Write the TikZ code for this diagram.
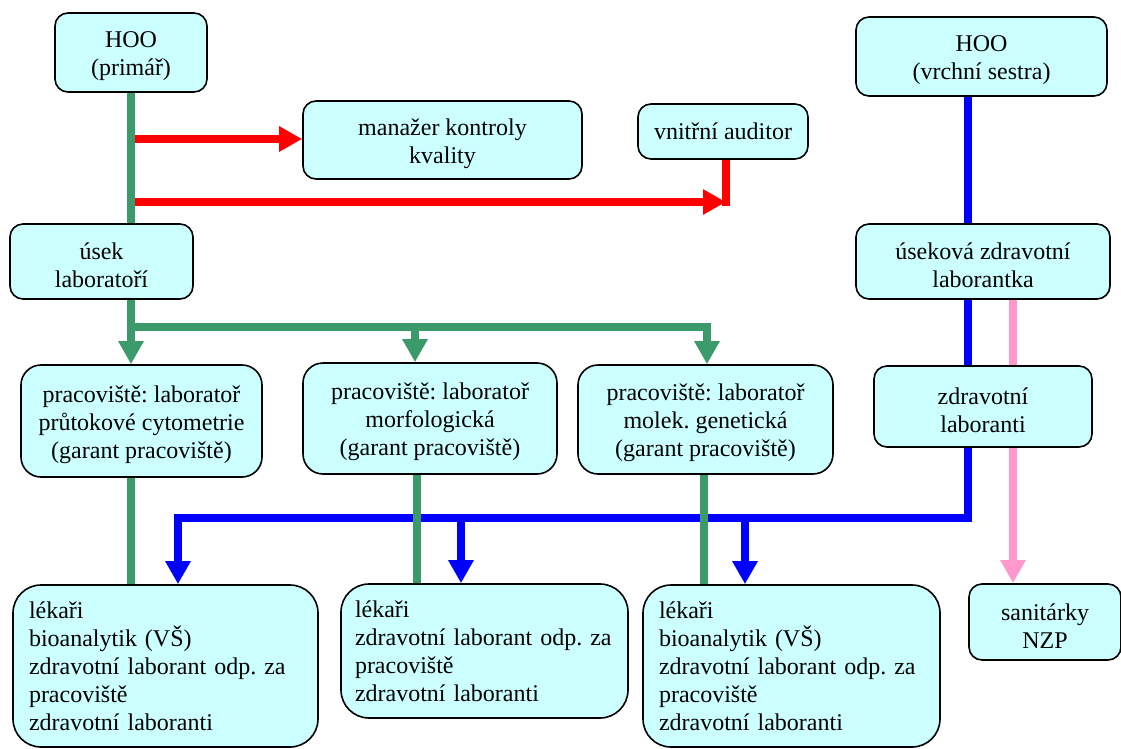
\documentclass[tikz,border=0pt]{standalone}
\usepackage{fontspec}
\setmainfont{Liberation Serif}
\usetikzlibrary{arrows.meta,backgrounds}
\frenchspacing
\newcommand{\topstrut}{\rule{0pt}{24pt}}
\definecolor{boxfill}{HTML}{CCFFFF}
\definecolor{gcol}{HTML}{3A9A6A}
\definecolor{rcol}{HTML}{FF0000}
\definecolor{bcol}{HTML}{0000FF}
\definecolor{pcol}{HTML}{FF99CC}
\tikzset{
  basebox/.style={draw=black, line width=1.6pt, fill=boxfill, rounded corners=13pt,
    font=\fontsize{24}{28}\selectfont, inner sep=0pt},
  box/.style={basebox, align=center},
  bigbox/.style={basebox, rounded corners=28pt, align=left, inner xsep=16pt, inner ysep=0pt},
  pracbox/.style={box, rounded corners=20pt},
  gconn/.style={draw=gcol, line width=8pt},
  rconn/.style={draw=rcol, line width=8pt},
  bconn/.style={draw=bcol, line width=8pt},
  pconn/.style={draw=pcol, line width=8pt},
  tipped/.style={-{Triangle[length=23pt,width=24pt]}},
}
\begin{document}
\begin{tikzpicture}[x=1pt,y=-1pt]
\useasboundingbox (0,0) rectangle (1121,749);
% boxes
\node[box, minimum width=152pt, minimum height=79pt] (hoo1) at (131,52.5) {\topstrut HOO\\(primář)};
\node[box, minimum width=279pt, minimum height=78pt] (man) at (442.5,140) {\topstrut manažer kontroly\\kvality};
\node[box, minimum width=170pt, minimum height=55pt] (aud) at (723,131.5) {vnitřní auditor};
\node[box, minimum width=183pt, minimum height=75pt] (usek) at (101.5,261.5) {\topstrut úsek\\laboratoří};
\node[box, minimum width=251pt, minimum height=79pt] (hoo2) at (981.5,56.5) {\topstrut HOO\\(vrchní sestra)};
\node[box, minimum width=254pt, minimum height=75pt] (usekova) at (983,261.5) {\topstrut úseková zdravotní\\laborantka};
\node[box, minimum width=218pt, minimum height=81pt] (zl) at (983,406.5) {\topstrut zdravotní\\laboranti};
\node[pracbox, minimum width=241pt, minimum height=112pt] (p1) at (141.5,421) {\topstrut pracoviště: laboratoř\\průtokové cytometrie\\(garant pracoviště)};
\node[pracbox, minimum width=254pt, minimum height=111pt] (p2) at (430,418.5) {\topstrut pracoviště: laboratoř\\morfologická\\(garant pracoviště)};
\node[pracbox, minimum width=255pt, minimum height=109pt] (p3) at (705.5,419.5) {\topstrut pracoviště: laboratoř\\molek. genetická\\(garant pracoviště)};
\node[bigbox, text width=273pt, minimum height=162pt] (b1) at (165.5,666) {lékaři\\bioanalytik (VŠ)\\zdravotní laborant odp. za\\pracoviště\\zdravotní laboranti};
\node[bigbox, text width=259pt, inner xsep=14pt, minimum height=134pt] (b2) at (484.5,651) {lékaři\\zdravotní laborant odp. za\\pracoviště\\zdravotní laboranti};
\node[bigbox, text width=265pt, minimum height=162pt] (b3) at (791.5,666) {lékaři\\bioanalytik (VŠ)\\zdravotní laborant odp. za\\pracoviště\\zdravotní laboranti};
\node[box, minimum width=152pt, minimum height=76pt] (san) at (1045,622) {\topstrut sanitárky\\NZP};
% coordinates
\coordinate (g1) at (131,327);
\coordinate (g2) at (415,327);
\coordinate (g3) at (707,327);
\coordinate (d2) at (417,500);
\coordinate (d3) at (704,500);
\coordinate (r1) at (135,139);
\coordinate (r2) at (135,202);
\coordinate (ra) at (726,202);
\coordinate (bx) at (968,518);
\coordinate (bt1) at (178,518);
\coordinate (bt2) at (461,518);
\coordinate (bt3) at (745,518);
\coordinate (px) at (1013,400);
\begin{pgfonlayer}{background}
% blue
\draw[bconn] (bx |- hoo2.south) -- (bx |- usekova.north);
\draw[bconn] (bx |- usekova.south) -- (bx |- zl.north);
\draw[bconn, tipped] (bx |- zl.south) -- (bx) -- (bt1) -- (bt1 |- b1.north);
\draw[bconn, tipped] (bt2) -- (bt2 |- b2.north);
\draw[bconn, tipped] (bt3) -- (bt3 |- b3.north);
% pink
\draw[pconn, tipped] (px |- usekova.south) -- (px |- san.north);
% green
\draw[gconn] (hoo1.south) -- (hoo1.south |- usek.north);
\draw[gconn, line cap=rect] (g1 |- usek.south) -- (g1) -- (g3);
\draw[gconn, tipped] (g1) -- (g1 |- p1.north);
\draw[gconn, tipped] (g2) -- (g2 |- p2.north);
\draw[gconn, tipped] (g3) -- (g3 |- p3.north);
\draw[gconn] (g1 |- p1.south) -- (g1 |- b1.north);
\draw[gconn] (d2 |- p2.south) -- (d2 |- b2.north);
\draw[gconn] (d3 |- p3.south) -- (d3 |- b3.north);
% red
\draw[rconn, tipped] (r1) -- (r1 -| man.west);
\draw[rconn, tipped] (r2) -- (ra);
\draw[rconn, line cap=rect] (ra |- aud.south) -- (ra);
\end{pgfonlayer}
\end{tikzpicture}
\end{document}
